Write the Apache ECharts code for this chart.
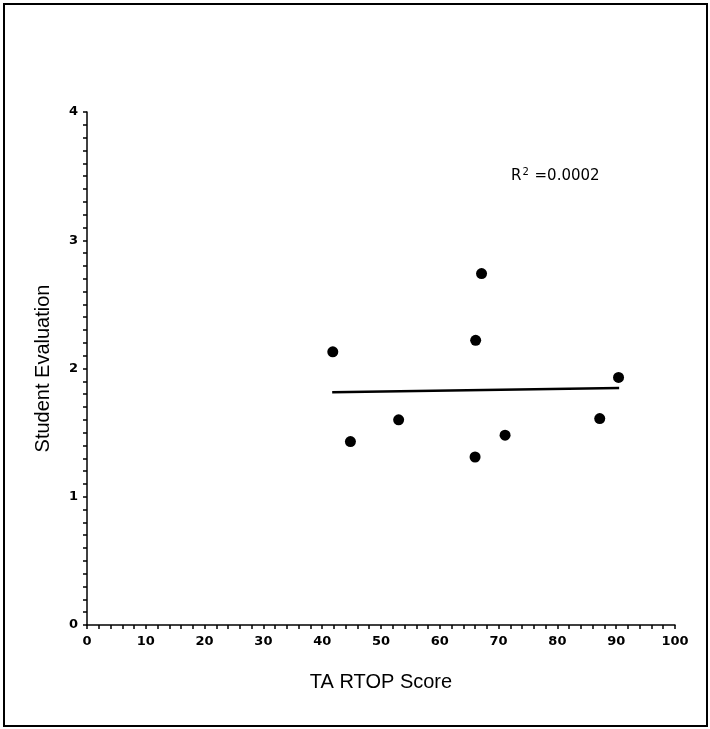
<!DOCTYPE html>
<html>
<head>
<meta charset="utf-8">
<style>
  html, body { margin: 0; padding: 0; background: #fff; }
  #chart { width: 710px; height: 729px; }
</style>
<script src="https://cdn.jsdelivr.net/npm/echarts@6/dist/echarts.min.js"></script>
</head>
<body>
<div id="chart"></div>
<script>
// TA RTOP score vs. student evaluation, one point per TA
const rtopScores = [41.8, 44.8, 53.0, 66.1, 67.1, 66.0, 71.1, 87.2, 90.4];
const studentEvals = [2.13, 1.43, 1.60, 2.22, 2.74, 1.31, 1.48, 1.61, 1.93];

// Linear trend line end points
const trendX = [41.7, 90.5];
const trendY = [1.814, 1.847];

const rSquaredText = '0.0002';

const xTicks = [0, 10, 20, 30, 40, 50, 60, 70, 80, 90, 100];
const yTicks = [0, 1, 2, 3, 4];

const chart = echarts.init(document.getElementById('chart'));

const tickFont = {
  color: '#000',
  fontFamily: 'DejaVu Sans',
  fontSize: 13,
  fontWeight: 'bold'
};

chart.setOption({
  animation: false,
  backgroundColor: '#fff',
  grid: { left: 87, right: 35, top: 112, bottom: 104 },
  xAxis: {
    type: 'value',
    min: xTicks[0],
    max: xTicks[xTicks.length - 1],
    interval: 10,
    name: 'TA RTOP Score',
    nameLocation: 'middle',
    nameGap: 47,
    nameTextStyle: { fontFamily: 'Liberation Sans', fontSize: 20, color: '#000' },
    axisLine: { show: true, onZero: false, lineStyle: { color: '#000', width: 1.5 } },
    axisTick: { show: true, inside: false, length: 4, lineStyle: { color: '#000', width: 1.5 } },
    minorTick: { show: true, splitNumber: 5, length: 4, lineStyle: { color: '#000', width: 1.5 } },
    axisLabel: Object.assign({ margin: 10 }, tickFont),
    splitLine: { show: false }
  },
  yAxis: {
    type: 'value',
    min: yTicks[0],
    max: yTicks[yTicks.length - 1],
    interval: 1,
    name: 'Student Evaluation',
    nameLocation: 'middle',
    nameGap: 34,
    nameTextStyle: { fontFamily: 'Liberation Sans', fontSize: 20, color: '#000' },
    axisLine: { show: true, onZero: false, lineStyle: { color: '#000', width: 1.5 } },
    axisTick: { show: true, inside: false, length: 4, lineStyle: { color: '#000', width: 1.5 } },
    minorTick: { show: true, splitNumber: 10, length: 4, lineStyle: { color: '#000', width: 1.5 } },
    axisLabel: Object.assign({ margin: 9 }, tickFont),
    splitLine: { show: false }
  },
  series: [
    {
      type: 'scatter',
      data: rtopScores.map((x, i) => [x, studentEvals[i]]),
      symbol: 'circle',
      symbolSize: 11,
      itemStyle: { color: '#000', opacity: 1 },
      z: 3
    },
    {
      type: 'line',
      data: trendX.map((x, i) => [x, trendY[i]]),
      showSymbol: false,
      symbol: 'none',
      lineStyle: { color: '#000', width: 2.5 },
      z: 2
    }
  ],
  graphic: [
    {
      type: 'rect',
      shape: { x: 4, y: 4, width: 703, height: 722 },
      style: { fill: 'none', stroke: '#000', lineWidth: 2 }
    },
    {
      type: 'text',
      left: 511,
      top: 167,
      style: {
        text: 'R{sup|2} =' + rSquaredText,
        fill: '#000',
        font: '15px "DejaVu Sans"',
        rich: {
          sup: { fontSize: 10, verticalAlign: 'top', padding: [0, 1, 8, 1], fontFamily: 'DejaVu Sans' }
        }
      }
    }
  ]
});
</script>
</body>
</html>
